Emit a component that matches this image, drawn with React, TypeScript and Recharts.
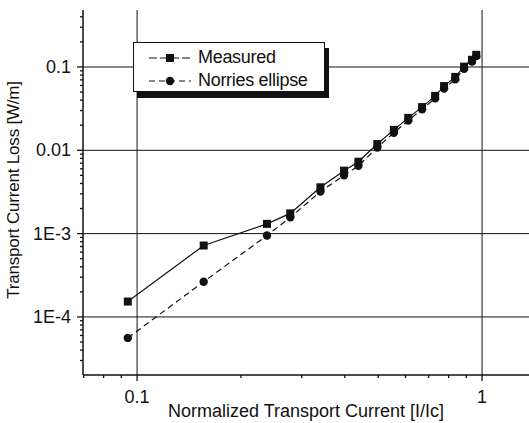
import { LineChart, Line, XAxis, YAxis, ReferenceLine } from 'recharts';

// normalized current I/Ic, shared by both series
const current = [0.094, 0.156, 0.238, 0.278, 0.34, 0.398, 0.438, 0.497, 0.555, 0.611, 0.67, 0.731, 0.776, 0.836, 0.887, 0.935, 0.962];
const measured = [1.53e-4, 7.2e-4, 1.31e-3, 1.75e-3, 3.6e-3, 5.7e-3, 7.3e-3, 0.0119, 0.0176, 0.0245, 0.033, 0.045, 0.059, 0.076, 0.101, 0.122, 0.14];
const norris = [5.6e-5, 2.65e-4, 9.5e-4, 1.57e-3, 3.2e-3, 5.0e-3, 6.5e-3, 0.0108, 0.0162, 0.0228, 0.031, 0.042, 0.055, 0.071, 0.095, 0.116, 0.135];

const xMajor = [0.1, 1];
const xMajorLabels = ['0.1', '1'];
const yMajor = [1e-4, 1e-3, 0.01, 0.1];
const yMajorLabels = ['1E-4', '1E-3', '0.01', '0.1'];
const minorSteps = [2, 3, 4, 5, 6, 7, 8, 9];

const FONT = '"Liberation Sans", Arial, sans-serif';
const INK = '#111';

const X_DOMAIN: [number, number] = [0.0697, 1.368];
const Y_DOMAIN: [number, number] = [2.01e-5, 0.483];

const inDomain = (v: number, d: [number, number]) => v >= d[0] && v <= d[1];
const xTicks = [0.01, 0.1, 1]
  .flatMap((d) => [d, ...minorSteps.map((m) => m * d)])
  .filter((v) => inDomain(v, X_DOMAIN));
const yTicks = [1e-5, 1e-4, 1e-3, 0.01, 0.1]
  .flatMap((d) => [d, ...minorSteps.map((m) => m * d)])
  .filter((v) => inDomain(v, Y_DOMAIN));

const measuredData = current.map((x, i) => ({ x, y: measured[i] }));
const norrisData = current.map((x, i) => ({ x, y: norris[i] }));

function SquareDot({ cx, cy }: any) {
  if (cx == null || cy == null) return null;
  return <rect x={cx - 4} y={cy - 4} width={8} height={8} fill={INK} />;
}

function CircleDot({ cx, cy }: any) {
  if (cx == null || cy == null) return null;
  return <circle cx={cx} cy={cy} r={4.2} fill={INK} />;
}

function YTick({ x, y, payload }: any) {
  const i = yMajor.indexOf(payload.value);
  const major = i >= 0;
  return (
    <g>
      <line x1={x - (major ? 6 : 3)} x2={x} y1={y} y2={y} stroke={INK} strokeWidth={1.3} />
      {major && (
        <text x={x - 12} y={y + 6} textAnchor="end" fontSize={18} fontFamily={FONT} fill={INK}>
          {yMajorLabels[i]}
        </text>
      )}
    </g>
  );
}

function XTick({ x, y, payload }: any) {
  const i = xMajor.indexOf(payload.value);
  const major = i >= 0;
  return (
    <g>
      <line x1={x} x2={x} y1={y} y2={y + (major ? 6 : 3)} stroke={INK} strokeWidth={1.3} />
      {major && (
        <text x={x} y={y + 28} textAnchor="middle" fontSize={18} fontFamily={FONT} fill={INK}>
          {xMajorLabels[i]}
        </text>
      )}
    </g>
  );
}

function YTitle() {
  return (
    <text x={19} y={190} transform="rotate(-90, 19, 190)" textAnchor="middle" fontSize={17} letterSpacing={-0.2} fontFamily={FONT} fill={INK}>
      Transport Current Loss [W/m]
    </text>
  );
}

function LegendRow({ label, dashed, circle }: { label: string; dashed?: boolean; circle?: boolean }) {
  return (
    <div style={{ display: 'flex', alignItems: 'center', height: 23 }}>
      <svg width={48} height={14} style={{ marginLeft: 13 }}>
        <line x1={2} x2={44} y1={7} y2={7} stroke={INK} strokeWidth={1} strokeDasharray={dashed ? '6 4' : '8 3'} />
        {circle ? <circle cx={23} cy={7} r={4.2} fill={INK} /> : <rect x={19} y={3} width={8} height={8} fill={INK} />}
      </svg>
      <span style={{ marginLeft: 3, fontSize: 18, letterSpacing: -0.3 }}>{label}</span>
    </div>
  );
}

export default function App() {
  return (
    <div style={{ position: 'absolute', left: 0, top: 0, width: 529, height: 423, background: '#fff', fontFamily: FONT, color: INK }}>
      <LineChart width={529} height={423} margin={{ top: 10, right: 0, bottom: 0, left: 0 }}>
        <XAxis
          dataKey="x"
          type="number"
          scale="log"
          domain={X_DOMAIN}
          allowDataOverflow
          ticks={xTicks}
          interval={0}
          height={48}
          tickSize={0}
          tickMargin={0}
          tickLine={false}
          tick={<XTick />}
          axisLine={{ stroke: INK, strokeWidth: 1.5 }}
          label={{ value: 'Normalized Transport Current [I/Ic]', position: 'insideBottom', offset: 6, fontSize: 18, fontFamily: FONT, fill: INK }}
        />
        <YAxis
          dataKey="y"
          type="number"
          scale="log"
          domain={Y_DOMAIN}
          allowDataOverflow
          ticks={yTicks}
          interval={0}
          width={83}
          tickSize={0}
          tickMargin={0}
          tickLine={false}
          tick={<YTick />}
          axisLine={{ stroke: INK, strokeWidth: 1.5 }}
          label={{ content: () => <YTitle /> }}
        />
        {yMajor.map((v) => (
          <ReferenceLine key={'h' + v} y={v} stroke={INK} strokeWidth={1} />
        ))}
        {xMajor.map((v) => (
          <ReferenceLine key={'v' + v} x={v} stroke={INK} strokeWidth={1} />
        ))}
        <Line data={measuredData} dataKey="y" stroke={INK} strokeWidth={1.2} dot={<SquareDot />} isAnimationActive={false} />
        <Line data={norrisData} dataKey="y" stroke={INK} strokeWidth={1.2} strokeDasharray="6 4" dot={<CircleDot />} isAnimationActive={false} />
      </LineChart>
      <div
        style={{
          position: 'absolute',
          left: 133,
          top: 42,
          width: 192,
          height: 50,
          boxSizing: 'border-box',
          border: '1.5px solid ' + INK,
          background: '#fff',
          boxShadow: '4px 6px 0 ' + INK,
          paddingTop: 3,
        }}
      >
        <LegendRow label="Measured" />
        <LegendRow label="Norries ellipse" dashed circle />
      </div>
    </div>
  );
}
